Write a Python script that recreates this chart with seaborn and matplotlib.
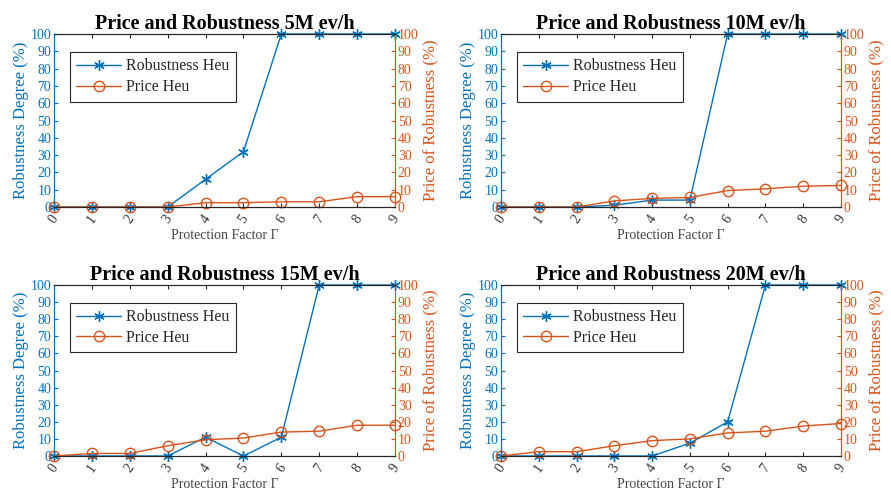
import matplotlib
matplotlib.use("Agg")
import matplotlib.pyplot as plt
import seaborn as sns

# Protection factor values shared by all panels
gamma = [0, 1, 2, 3, 4, 5, 6, 7, 8, 9]

# Traffic loads shown in the four panels
loads = ["5M", "10M", "15M", "20M"]

# Robustness degree (%) per load
rob_5m = [0, 0, 0, 0, 16, 32, 100, 100, 100, 100]
rob_10m = [0, 0, 0, 1, 4, 4, 100, 100, 100, 100]
rob_15m = [0, 0, 0, 0, 11, 0, 11, 100, 100, 100]
rob_20m = [0, 0, 0, 0, 0, 7.5, 20, 100, 100, 100]

# Price of robustness (%) per load
price_5m = [0, 0, 0, 0, 2.5, 2.5, 3, 3, 6, 6]
price_10m = [0, 0, 0, 3.5, 5, 5.5, 9.5, 10.5, 12, 12.5]
price_15m = [0, 1.5, 1.5, 6, 9.5, 10.5, 14, 14.5, 18, 18]
price_20m = [0, 2.5, 2.5, 6, 9, 10, 13.5, 14.5, 17.5, 19]

robustness = [rob_5m, rob_10m, rob_15m, rob_20m]
prices = [price_5m, price_10m, price_15m, price_20m]

y_ticks = list(range(0, 101, 10))

sns.set_theme(style="white")
plt.rcParams["font.family"] = ["Liberation Serif", "DejaVu Serif"]

BLUE = "#0072BD"
ORANGE = "#D95319"
DARK = "#262626"

fig = plt.figure(figsize=(8.91, 5.04), dpi=100)

# axes rectangles (left, bottom, width, height) in figure fractions
W, H = 891.0, 504.0
rects = [
    (54 / W, 1 - 207 / H, 341 / W, 173 / H),
    (501 / W, 1 - 207 / H, 340 / W, 173 / H),
    (54 / W, 1 - 456 / H, 341 / W, 171 / H),
    (501 / W, 1 - 456 / H, 340 / W, 171 / H),
]

for rect, load, rob, price in zip(rects, loads, robustness, prices):
    ax = fig.add_axes(rect)
    ax2 = ax.twinx()

    sns.lineplot(x=gamma, y=rob, ax=ax, color=BLUE, lw=1.0,
                 marker=(6, 2, 0), markersize=7.5, markeredgewidth=1.0,
                 markeredgecolor=BLUE, label="Robustness Heu", legend=False,
                 clip_on=False)
    sns.lineplot(x=gamma, y=price, ax=ax2, color=ORANGE, lw=1.0,
                 marker="o", markersize=7.5, markeredgewidth=1.0,
                 markerfacecolor="none", markeredgecolor=ORANGE,
                 label="Price Heu", legend=False, clip_on=False)

    for a in (ax, ax2):
        a.set_xlim(0, 9)
        a.set_ylim(0, 100)
        a.set_yticks(y_ticks)

    ax.set_xticks(gamma)
    ax.set_xticklabels([str(g) for g in gamma], rotation=55,
                       fontsize=10, color="#333333")
    ax.set_yticklabels([str(v) for v in y_ticks], fontsize=10, color=BLUE)
    ax2.set_yticklabels([str(v) for v in y_ticks], fontsize=10,
                        color=ORANGE)

    ax.tick_params(axis="x", direction="in", length=3, width=0.8,
                   color=DARK, top=True, bottom=True, pad=4)
    ax.tick_params(axis="y", direction="in", length=3, width=0.8,
                   color=BLUE, left=True, pad=2)
    ax2.tick_params(axis="y", direction="in", length=3, width=0.8,
                    color=ORANGE, right=True, pad=2)

    for a in (ax, ax2):
        for side in ("top", "bottom"):
            a.spines[side].set_color(DARK)
            a.spines[side].set_linewidth(0.8)
        a.spines["left"].set_color(BLUE)
        a.spines["right"].set_color(ORANGE)
        a.spines["left"].set_linewidth(0.8)
        a.spines["right"].set_linewidth(0.8)
        a.grid(False)

    ax.set_xlabel("Protection Factor \u0393", fontsize=10, color="#444444",
                  labelpad=2)
    ax.set_ylabel("Robustness Degree (%)", fontsize=12, color=BLUE,
                  labelpad=1)
    ax2.set_ylabel("Price of Robustness (%)", fontsize=12, color=ORANGE,
                   labelpad=3)
    ax.set_title(f"Price and Robustness {load} ev/h", fontsize=14.5,
                 fontweight="bold", color="black", pad=3)

    handles = ax.get_lines()[:1] + ax2.get_lines()[:1]
    leg = ax2.legend(handles, ["Robustness Heu", "Price Heu"],
                     loc="upper left", bbox_to_anchor=(0.047, 0.896),
                     borderaxespad=0, fontsize=11.5, frameon=True,
                     fancybox=False, edgecolor=DARK, framealpha=1,
                     handlelength=2.8, handletextpad=0.3,
                     borderpad=0.4, labelspacing=0.3)
    leg.get_frame().set_linewidth(0.8)

fig.savefig("out.png", dpi=100)
